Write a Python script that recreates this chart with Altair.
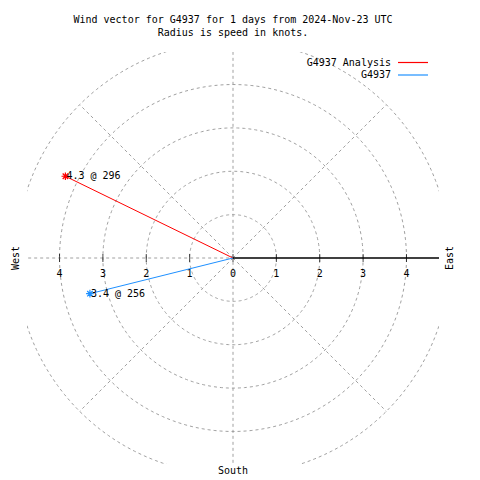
import altair as alt
import pandas as pd
import numpy as np

# ---- data ----
series = ["G4937 Analysis", "G4937"]
speeds = [4.3, 3.4]
directions = [296, 256]
colors = ["#ff0000", "#1e90ff"]
rings = [1, 2, 3, 4, 5]
tick_values = [-4, -3, -2, -1, 0, 1, 2, 3, 4]
title_lines = ["Wind vector for G4937 for 1 days from 2024-Nov-23 UTC",
               "Radius is speed in knots."]
compass = ["West", "East", "South"]

FONT = "DejaVu Sans Mono"
FS = 10
R = 4.75
GRID = "#a0a0a0"
DASH = [3, 3]

xs = alt.Scale(domain=[-R, R], nice=False, zero=False)
ys = alt.Scale(domain=[-R, R], nice=False, zero=False)
X = lambda f: alt.X(f, type="quantitative", scale=xs, axis=None)
Y = lambda f: alt.Y(f, type="quantitative", scale=ys, axis=None)
col = alt.Color("series:N", scale=alt.Scale(domain=series, range=colors), legend=None)

# vectors
rad = np.radians(directions)
vec = pd.DataFrame({
    "series": series,
    "x0": 0.0, "y0": 0.0,
    "x": np.array(speeds) * np.sin(rad),
    "y": np.array(speeds) * np.cos(rad),
    "label": [f"{s} @ {d}" for s, d in zip(speeds, directions)],
})

# rings
ang = np.linspace(0, 2 * np.pi, 361)
ring_df = pd.concat([
    pd.DataFrame({"ring": r, "i": np.arange(len(ang)), "x": r * np.cos(ang), "y": r * np.sin(ang)})
    for r in rings
])

rmax = max(rings)
diag_ang = np.radians([45, 135, 225, 315])
spokes = pd.DataFrame({
    "x0": [0.0] * 4 + [0.0, -rmax],
    "y0": [0.0] * 4 + [-rmax, 0.0],
    "x1": list(rmax * np.cos(diag_ang)) + [0.0, 0.0],
    "y1": list(rmax * np.sin(diag_ang)) + [rmax, 0.0],
})

ring_layer = alt.Chart(ring_df).mark_line(
    color=GRID, strokeDash=DASH, strokeWidth=1, clip=True
).encode(x=X("x"), y=Y("y"), detail="ring:N", order="i:Q")

spoke_layer = alt.Chart(spokes).mark_rule(
    color=GRID, strokeDash=DASH, strokeWidth=1, clip=True
).encode(x=X("x0"), y=Y("y0"), x2="x1:Q", y2="y1:Q")

axis_df = pd.DataFrame({"x0": [0.0], "x1": [R], "y": [0.0]})
axis_layer = alt.Chart(axis_df).mark_rule(color="black", strokeWidth=1.3).encode(
    x=X("x0"), x2="x1:Q", y=Y("y"))

ticks_df = pd.DataFrame({"x": tick_values, "y": 0.0,
                         "lab": [str(abs(v)) for v in tick_values]})
tick_layer = alt.Chart(ticks_df).mark_tick(
    color="black", orient="vertical", size=8, thickness=1
).encode(x=X("x"), y=Y("y"))
ticklab_layer = alt.Chart(ticks_df).mark_text(
    font=FONT, fontSize=FS, dy=16, color="black"
).encode(x=X("x"), y=Y("y"), text="lab:N")

vec_layer = alt.Chart(vec).mark_rule(strokeWidth=1).encode(
    x=X("x0"), y=Y("y0"), x2="x:Q", y2="y:Q", color=col)

asterisk = "M-1,0L1,0M0,-1L0,1M-0.7,-0.7L0.7,0.7M-0.7,0.7L0.7,-0.7"
pt_layer = alt.Chart(vec).mark_point(
    shape=asterisk, size=60, filled=False, strokeWidth=1.2, opacity=1
).encode(x=X("x"), y=Y("y"), color=col)
ptlab_layer = alt.Chart(vec).mark_text(
    font=FONT, fontSize=FS, align="left", baseline="middle", dx=1, color="black"
).encode(x=X("x"), y=Y("y"), text="label:N")

px = 412 / (2 * R)  # pixels per knot
comp_df = pd.DataFrame({
    "name": compass,
    "x": [-217 / px, 217 / px, 0.0],
    "y": [0.0, 0.0, -213 / px],
    "angle": [270, 270, 0],
})
comp_side = alt.Chart(comp_df[comp_df["angle"] == 270]).mark_text(
    font=FONT, fontSize=FS, angle=270, baseline="middle", color="black"
).encode(x=X("x"), y=Y("y"), text="name:N")
comp_bottom = alt.Chart(comp_df[comp_df["angle"] == 0]).mark_text(
    font=FONT, fontSize=FS, baseline="middle", color="black"
).encode(x=X("x"), y=Y("y"), text="name:N")

leg_df = pd.DataFrame({
    "series": series,
    "tx": 158 / px,
    "lx0": 165 / px, "lx1": 195 / px,
    "y": [195.5 / px, 183 / px],
})
leg_text = alt.Chart(leg_df).mark_text(
    font=FONT, fontSize=FS, align="right", baseline="middle", color="black"
).encode(x=X("tx"), y=Y("y"), text="series:N")
leg_line = alt.Chart(leg_df).mark_rule(strokeWidth=1.2).encode(
    x=X("lx0"), x2="lx1:Q", y=Y("y"), color=col)

chart = alt.layer(
    ring_layer, spoke_layer, axis_layer, tick_layer, ticklab_layer,
    vec_layer, pt_layer, ptlab_layer, comp_side, comp_bottom, leg_text, leg_line
).properties(
    width=412, height=412,
    padding={"left": 19, "top": 44, "right": 20, "bottom": 18},
    autosize="none",
    title=alt.TitleParams(title_lines, font=FONT, fontSize=FS, fontWeight="normal",
                          anchor="middle", offset=14, lineHeight=13, color="black"),
).configure(background="white", view=alt.ViewConfig(stroke=None))

chart.save("out.html", embed_options={"renderer": "svg", "actions": False})
